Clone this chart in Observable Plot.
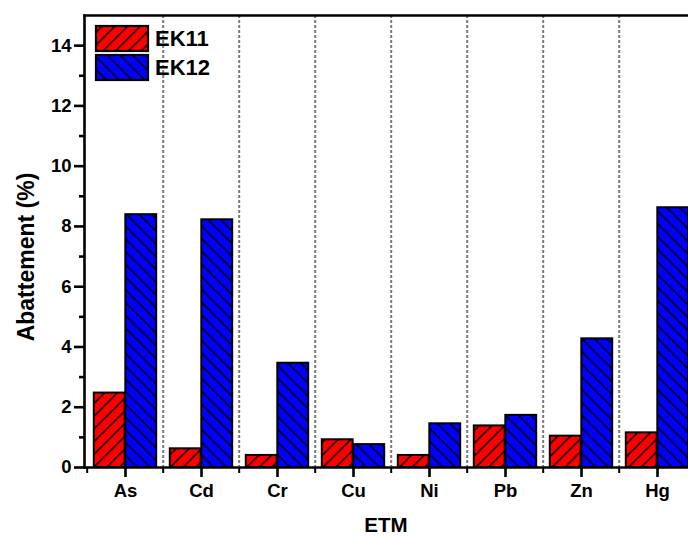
<!DOCTYPE html>
<html>
<head>
<meta charset="utf-8">
<script src="https://cdn.jsdelivr.net/npm/d3@7"></script>
<script src="https://cdn.jsdelivr.net/npm/@observablehq/plot@0.6"></script>
<style>
  html, body { margin: 0; padding: 0; background: #fff; overflow: hidden; }
  #chart svg { display: block; }
</style>
</head>
<body>
<div id="chart"></div>
<script>
// ---- data ----
const categories = ["As", "Cd", "Cr", "Cu", "Ni", "Pb", "Zn", "Hg"];
const ek11 = [2.47, 0.62, 0.40, 0.92, 0.40, 1.38, 1.04, 1.15];
const ek12 = [8.39, 8.22, 3.46, 0.76, 1.45, 1.73, 4.27, 8.62];
const seriesNames = ["EK11", "EK12"];
const yTicks = [0, 2, 4, 6, 8, 10, 12, 14];
const yMinor = [1, 3, 5, 7, 9, 11, 13];
const yDomain = [0, 15];
const xTitle = "ETM";
const yTitle = "Abattement (%)";

const rows11 = categories.map((c, i) => ({cat: c, value: ek11[i]}));
const rows12 = categories.map((c, i) => ({cat: c, value: ek12[i]}));

// ---- layout ----
const W = 688, H = 538;
const mL = 84, mT = 15, mB = 71;
const xRange = [84, 697];
const step = (xRange[1] - xRange[0]) / categories.length;
const outer = 6.8;
const font = "'Liberation Sans', Arial, sans-serif";

function defsMark() {
  const g = d3.create("svg:g");
  const defs = g.append("defs");
  const mk = (id, color, angle) => {
    const p = defs.append("pattern")
      .attr("id", id)
      .attr("patternUnits", "userSpaceOnUse")
      .attr("width", 9).attr("height", 9)
      .attr("patternTransform", `rotate(${angle})`);
    p.append("rect").attr("width", 9).attr("height", 9).attr("fill", color);
    p.append("line").attr("x1", 0).attr("y1", 0).attr("x2", 0).attr("y2", 9)
      .attr("stroke", "#000").attr("stroke-width", 3);
  };
  mk("hatchRed", "#ff0000", 45);
  mk("hatchBlue", "#0000ff", -45);
  return g.node();
}

function annotationsMark() {
  const g = d3.create("svg:g").attr("font-family", font).attr("font-weight", "bold").attr("fill", "#000");
  const items = [
    {name: seriesNames[0], fill: "url(#hatchRed)", y: 26},
    {name: seriesNames[1], fill: "url(#hatchBlue)", y: 55}
  ];
  for (const it of items) {
    g.append("rect").attr("x", 96).attr("y", it.y).attr("width", 52).attr("height", 25)
      .attr("fill", it.fill).attr("stroke", "#000").attr("stroke-width", 2.2);
    g.append("text").attr("x", 155).attr("y", it.y + 12.5).attr("dy", "0.36em")
      .attr("text-anchor", "start").attr("font-size", 22).text(it.name);
  }
  // axis titles
  g.append("text").attr("transform", "translate(26,257) rotate(-90)")
    .attr("text-anchor", "middle").attr("dy", "0.36em").attr("font-size", 23).text(yTitle);
  g.append("text").attr("x", 386).attr("y", 525)
    .attr("text-anchor", "middle").attr("dy", "0.36em").attr("font-size", 20.5).text(xTitle);
  return g.node();
}

const chart = Plot.plot({
  width: W,
  height: H,
  marginLeft: mL,
  marginTop: mT,
  marginBottom: mB,
  marginRight: 0,
  style: {fontFamily: font, fontSize: "18.5px", fontWeight: "bold", color: "#000", background: "#fff", overflow: "visible"},
  x: {type: "band", domain: categories, range: xRange, padding: 0},
  y: {domain: yDomain},
  marks: [
    defsMark,
    Plot.ruleX(categories.slice(1), {x: d => d, dx: -step / 2, stroke: "#7a7a7a", strokeWidth: 2, strokeDasharray: "3,2"}),
    Plot.barY(rows11, {x: "cat", y: "value", fill: "url(#hatchRed)", stroke: "#000", strokeWidth: 2,
      insetLeft: outer, insetRight: step / 2}),
    Plot.barY(rows12, {x: "cat", y: "value", fill: "url(#hatchBlue)", stroke: "#000", strokeWidth: 2,
      insetLeft: step / 2, insetRight: outer}),
    Plot.frame({anchor: "left", stroke: "#000", strokeWidth: 2.6}),
    Plot.frame({anchor: "top", stroke: "#000", strokeWidth: 2.6}),
    Plot.frame({anchor: "bottom", stroke: "#000", strokeWidth: 2.6}),
    Plot.ruleX(categories, {x: d => d, dx: -step / 2, y1: 0, y2: 0, insetTop: 0, insetBottom: -6, stroke: "#000", strokeWidth: 2}),
    Plot.axisY({ticks: yTicks, tickSize: 10, tickPadding: 3, strokeWidth: 2.6, label: null}),
    Plot.axisY({ticks: yMinor, tickSize: 5, strokeWidth: 2.6, text: null, label: null}),
    Plot.axisX({tickSize: 10, tickPadding: 6, strokeWidth: 2.6, label: null}),
    annotationsMark
  ]
});
document.getElementById("chart").appendChild(chart);
</script>
</body>
</html>
